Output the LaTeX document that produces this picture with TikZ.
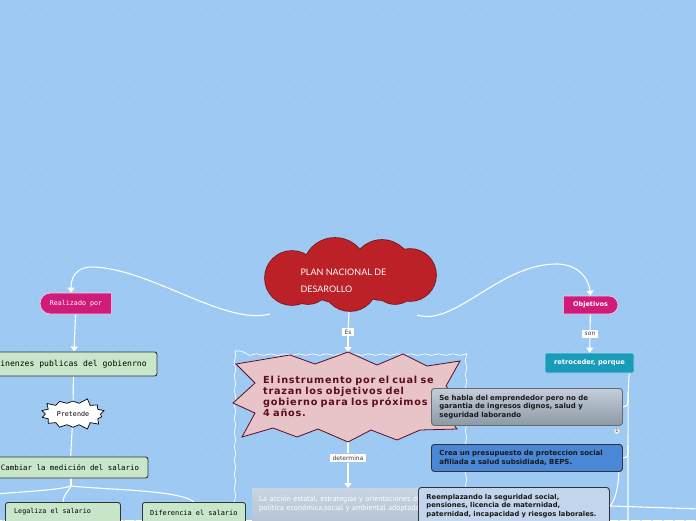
\documentclass[tikz,border=0pt]{standalone}
\usepackage{fontspec}
\usetikzlibrary{shapes.symbols,shapes.misc,arrows.meta,decorations.pathmorphing}
\newfontfamily\pixfont{DejaVu Sans Mono}
\newfontfamily\vfont{DejaVu Sans}
\newfontfamily\widefont{DejaVu Sans}[LetterSpace=8]
\newfontfamily\narrowfont{PT Sans}
\newfontfamily\handfont{Lato}
\definecolor{sky}{RGB}{157,201,243}
\definecolor{skydot}{RGB}{146,192,238}
\definecolor{cloudred}{RGB}{188,33,39}
\definecolor{magenta1}{RGB}{208,27,122}
\definecolor{mint}{RGB}{200,230,201}
\definecolor{rose}{RGB}{232,196,200}
\definecolor{wine}{RGB}{92,12,32}
\definecolor{teal1}{RGB}{25,155,185}
\definecolor{steel1}{RGB}{196,206,219}
\definecolor{steel2}{RGB}{142,153,166}
\definecolor{blue1}{RGB}{74,135,214}
\definecolor{pale}{RGB}{194,213,236}
\definecolor{mist1}{RGB}{200,212,226}
\definecolor{mist2}{RGB}{172,188,206}
\pgfdeclarelayer{back}
\pgfdeclarelayer{edges}
\pgfsetlayers{back,edges,main}
\tikzset{
  link/.style={draw=white, line width=1.1pt},
  arrowlink/.style={link, -{Triangle[width=7pt,length=5pt]}},
  tag/.style={fill=white, text=black!75, font=\vfont\fontsize{6}{7}\selectfont, inner xsep=3pt, inner ysep=2pt},
  mintbox/.style={draw=black!80, fill=mint, rounded corners=2.5pt, line width=0.9pt},
  magbox/.style={rounded rectangle, fill=magenta1, draw=white!80!magenta1, line width=0.6pt, text=white},
  infobox/.style={anchor=north west, rounded corners=3pt, line width=0.9pt, draw=black!80, align=left,
    font=\vfont\bfseries\fontsize{7}{8.6}\selectfont, text=black!90, inner xsep=8pt,
    minimum width=191pt, text width=175pt},
}
\begin{document}
\begin{tikzpicture}[x=1pt,y=-1pt]
\useasboundingbox (0,0) rectangle (696,520);
\clip (0,0) rectangle (696,520);
\begin{pgfonlayer}{back}
  \fill[sky] (0,0) rectangle (696,520);
  \foreach \i in {0,...,63}
    \foreach \j in {0,...,47}
      \fill[skydot] (3+11*\i,4+11*\j) circle[radius=0.8pt];
\end{pgfonlayer}

% centre
\foreach \cx/\cy/\r in {292/278/27, 335/270/32, 382/270/30, 410/275/26, 350/284/27, 395/282/22, 308/282/22}
  \draw[cloudred!65!black, line width=1.6pt] (\cx,\cy) circle[radius=\r];
\foreach \cx/\cy/\r in {292/278/27, 335/270/32, 382/270/30, 410/275/26, 350/284/27, 395/282/22, 308/282/22}
  \fill[cloudred] (\cx,\cy) circle[radius=\r];
\node[minimum width=174pt, minimum height=72pt] (plan) at (349,275) {};
\node[text=white, font=\handfont\fontsize{9}{17}\selectfont, align=left, anchor=west] (plantitle) at (297,281) {PLAN NACIONAL DE\\DESAROLLO};
\coordinate (planleft) at (270,314);
\coordinate (planright) at (417,315);

\node[tag] (es) at (348,332) {Es};
\coordinate (bursttop) at (348,352);
\filldraw[fill=rose, draw=wine, line width=0.8pt]
  (236,364) -- (290,355) -- (315,364) -- (348,352) -- (377,365) -- (403,354) -- (427,366) -- (460,361)
  -- (446,386) -- (462,405) -- (447,416) -- (457,429) -- (420,430) -- (397,440) -- (371,430) -- (348,442)
  -- (318,429) -- (297,437) -- (273,428) -- (242,437) -- (255,413) -- (233,403) -- (255,383) -- cycle;
\node[text=wine, font=\widefont\bfseries\fontsize{9.7}{11}\selectfont, text width=185pt, align=left, anchor=west, inner sep=0pt] (instrumento) at (263,396)
  {El instrumento por el cual se\\trazan los objetivos del\\gobierno para los próximos\\4 años.};
\node[tag] (determina) at (348,458) {determina};
\node[anchor=north west, minimum width=190pt, minimum height=50pt, top color=mist1, bottom color=mist2, text=white,
  font=\narrowfont\fontsize{7.8}{9.5}\selectfont, align=left, text width=178pt, inner xsep=7pt, inner ysep=6pt,
  text depth=30pt] (accion) at (252,488)
  {La acción estatal, estrategias y orientaciones de\\política económica,social y ambiental adoptada};

% left
\node[magbox, rounded rectangle right arc=none, minimum width=78pt, minimum height=21pt,
  font=\pixfont\fontsize{6.7}{8}\selectfont] (realizado) at (76,303.5) {Realizado por};
\node[mintbox, minimum width=167pt, minimum height=24pt, font=\pixfont\fontsize{8.1}{9}\selectfont] (finanzas) at (73.5,364) {inenzes publicas del gobienrno};
\node[starburst, starburst points=14, starburst point height=6pt, random starburst=3, fill=white, draw=black, line width=0.7pt,
  minimum width=58pt, minimum height=34pt, font=\pixfont\fontsize{6.7}{8}\selectfont] (pretende) at (73,414) {Pretende};
\node[mintbox, minimum width=156pt, minimum height=21pt, font=\pixfont\fontsize{7.4}{9}\selectfont] (cambiar) at (70,467.5) {Cambiar la medición del salario};
\node[mintbox, anchor=north west, minimum width=115pt, minimum height=40pt] (legaliza) at (5,502) {};
\node[anchor=west, font=\pixfont\fontsize{6.7}{8}\selectfont, inner sep=0pt] (legalizatext) at (14,512) {Legaliza el salario};
\node[mintbox, anchor=north west, minimum width=103pt, minimum height=40pt] (diferencia) at (142,502) {};
\node[anchor=west, font=\pixfont\fontsize{6.9}{8}\selectfont, inner sep=0pt] (diferenciatext) at (150,513) {Diferencia el salario};
\coordinate (split) at (71,486);
\coordinate (offleft) at (-5,494);

% right
\node[magbox, rounded rectangle left arc=none, minimum width=61pt, minimum height=18pt,
  font=\vfont\bfseries\fontsize{6.5}{8}\selectfont] (objetivos) at (590.5,305) {Objetivos};
\node[tag] (son) at (590,334) {son};
\node[fill=teal1, draw=white!60!teal1, line width=0.6pt, rounded corners=1.5pt, minimum width=89pt, minimum height=20pt,
  text=white, font=\vfont\bfseries\fontsize{6.7}{8}\selectfont] (retroceder) at (589.5,363) {retroceder, porque};
\node[infobox, top color=steel1, bottom color=steel2, draw=steel2!70!black, minimum height=37pt] (sehabla) at (431,388)
  {Se habla del emprendedor pero no de\\garantia de ingresos dignos, salud y\\seguridad laborando};
\node[rounded corners=1.5pt, fill=black!8, draw=black!30, font=\vfont\fontsize{5}{6}\selectfont, inner sep=1.2pt, text=black!70] (badge) at (617,431) {1};
\node[infobox, fill=blue1, minimum height=27pt] (crea) at (431,444)
  {Crea un presupuesto de proteccion social\\afiliada a salud subsidiada, BEPS.};
\node[infobox, fill=pale, minimum height=37pt, font=\vfont\bfseries\fontsize{6.8}{8.6}\selectfont] (reemplazando) at (418,487)
  {Reemplazando la seguridad social,\\pensiones, licencia de maternidad,\\paternidad, incapacidad y riesgos laborales.};
\coordinate (t1) at (628,392);
\coordinate (t2) at (628,445);
\coordinate (offright) at (700,509);

\begin{pgfonlayer}{edges}
  \draw[white, line width=0.7pt, decorate, decoration={snake, amplitude=0.8pt, segment length=14pt}]
    (235,351) rectangle (466,540);
  \draw[arrowlink] (planleft) .. controls (225,326) and (150,268) .. (92,267)
    .. controls (74,267) and (71,280) .. ([xshift=-5pt]realizado.north);
  \draw[arrowlink] (planright) .. controls (455,327) and (500,263) .. (558,264)
    .. controls (580,265) and (589,280) .. (objetivos.north);
  \draw[link] (plan.south) -- (es);
  \draw[arrowlink] (es) -- (bursttop);
  \draw[link] (instrumento.south -| determina) -- (determina);
  \draw[arrowlink] (determina) -- (accion.north -| determina);
  \draw[arrowlink] (realizado) -- (finanzas);
  \draw[link] (finanzas) -- (pretende);
  \draw[link] (pretende) -- (cambiar);
  \draw[link] (cambiar.south -| split) -- (split);
  \draw[link] (split) .. controls (60,490) and (20,492) .. (offleft);
  \draw[link] (split) .. controls (68,492) and (63,495) .. (legaliza.north);
  \draw[link] (split) .. controls (110,490) and (180,490) .. (diferencia.north);
  \draw[link] (objetivos) -- (son);
  \draw[arrowlink] (son) -- (retroceder);
  \draw[link] ([xshift=-5pt]retroceder.south east) .. controls (628,390) .. (628,530);
  \draw[link] (t1) .. controls (628,406) .. (sehabla.east);
  \draw[link] (t2) .. controls (628,457) .. (crea.east);
  \draw[link] ([xshift=-4pt]crea.south east) .. controls (618,490) and (615,500) .. (reemplazando.east);
  \draw[link] (reemplazando.east) -- (offright);
\end{pgfonlayer}
\end{tikzpicture}
\end{document}
